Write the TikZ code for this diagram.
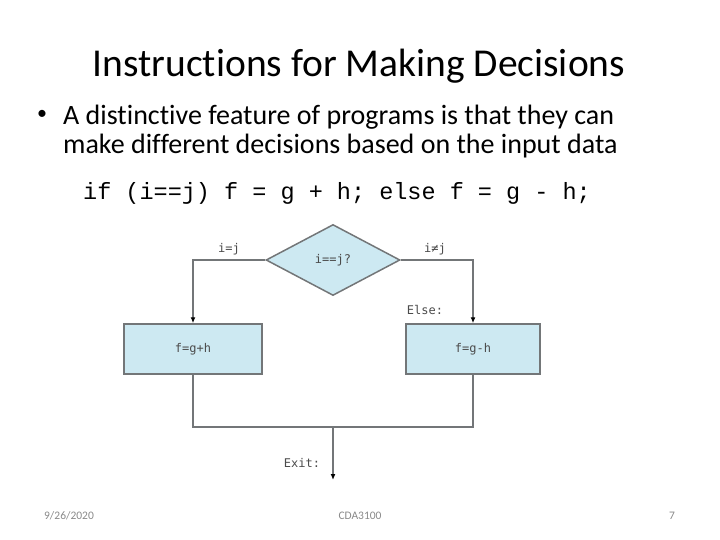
\documentclass[tikz,border=0pt]{standalone}
\usepackage{fontspec}
\setmainfont[Ligatures=NoCommon]{Carlito}
\newfontfamily\codefont{Liberation Mono}
\newfontfamily\flowfont{DejaVu Sans Mono}
\usetikzlibrary{arrows.meta, shapes.geometric}
\definecolor{boxblue}{RGB}{205,233,242}
\definecolor{linegray}{RGB}{115,118,120}
\definecolor{labelgray}{RGB}{75,75,75}
\definecolor{footgray}{RGB}{137,137,137}

\begin{document}
\begin{tikzpicture}[x=1pt,y=-1pt,inner sep=0pt,>={Latex[black,length=6pt,width=5pt]},
  box/.style={draw=linegray,fill=boxblue,line width=1.5pt,minimum height=50pt,font=\flowfont\fontsize{12}{12}\selectfont,text=labelgray},
  flowlbl/.style={font=\flowfont\fontsize{12}{12}\selectfont,text=labelgray},
  foot/.style={font=\fontsize{11.5}{12}\selectfont,text=footgray},
  link/.style={draw=linegray,line width=1.5pt}]
\useasboundingbox (0,0) rectangle (720,540);
% slide text
\node (title) at (359,66) {\fontsize{39.5}{40}\selectfont Instructions for Making Decisions};
\node (dot) at (42,115) {\fontsize{20}{20}\selectfont\textbullet};
\node [anchor=west] (line1) at (63,117) {\fontsize{28}{28}\selectfont A distinctive feature of programs is that they can};
\node [anchor=west] (line2) at (63,146) {\fontsize{28}{28}\selectfont make different decisions based on the input data};
\node (code) at (337,193) {\codefont\fontsize{23.5}{24}\selectfont if (i==j) f = g + h; else f = g - h;};
% flow chart
\node [draw=linegray,fill=boxblue,line width=1.5pt,diamond,minimum width=134pt,minimum height=71pt,flowlbl] (test) at (333,260) {i==j?};
\node [box,minimum width=138pt] (then) at (193,349) {f=g+h};
\node [box,minimum width=134pt] (else) at (473,349) {f=g-h};
\coordinate (join) at (333,427);
\coordinate (out) at (333,480);
\draw [link,->] (test.west) -| (then.north);
\draw [link,->] (test.east) -| (else.north);
\draw [link] (then.south) |- (join) -| (else.south);
\draw [link,->] (join) -- (out);
\node [flowlbl] (eq) at (229,249) {i=j};
\node [flowlbl] (ne) at (435,249) {i≠j};
\node [flowlbl] (elselbl) at (425,310) {Else:};
\node [flowlbl] (exitlbl) at (302,463) {Exit:};
% footer
\node [foot] (date) at (69,516) {9/26/2020};
\node [foot] (course) at (360,516) {CDA3100};
\node [foot] (page) at (672,516) {7};
\end{tikzpicture}
\end{document}
